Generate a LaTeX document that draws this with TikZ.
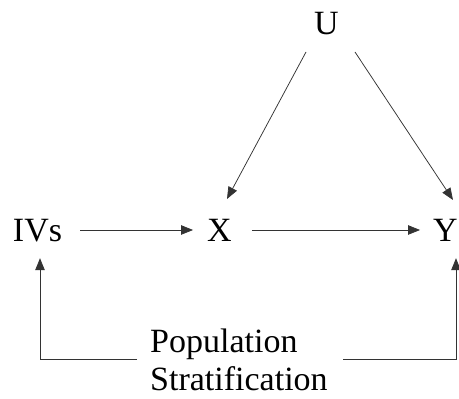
\documentclass[tikz,border=0pt]{standalone}
\usepackage{fontspec}
\setmainfont{Liberation Serif}
\usetikzlibrary{arrows.meta,calc}
\begin{document}
\begin{tikzpicture}[x=1pt,y=1pt,
  lbl/.style={inner sep=0pt,font=\fontsize{34}{38}\selectfont,text height=24pt,text depth=0pt,anchor=base},
  arr/.style={-{Triangle[length=12pt,width=9.5pt]},line width=0.75pt,draw=black!80}]
\useasboundingbox (0,0) rectangle (459,399);
\node[lbl] (U) at (326.5,364) {U};
\node[lbl] (IVs) at (37.5,157) {IVs};
\node[lbl] (X) at (219.5,157) {X};
\node[lbl] (Y) at (445.5,157) {Y};
\node[inner sep=0pt,font=\fontsize{34}{38}\selectfont,align=left,anchor=north west] (PS) at (150,70) {Population\\Stratification};
\coordinate (pl) at (137,40);
\coordinate (pr) at (343,40);
\coordinate (bl) at (40,40);
\coordinate (br) at (456,40);
\draw[arr,shorten <=18pt,shorten >=14pt] (IVs.east) -- (X.west);
\draw[arr,shorten <=20pt,shorten >=13pt] (X.east) -- (Y.west);
\draw[arr] ($(U.base)+(-20.5,-17)$) -- ($(X.base)+(7.5,43)$);
\draw[arr] ($(U.base)+(28.5,-17)$) -- ($(Y.base)+(7.5,42)$);
\draw[arr,shorten >=16pt] (pl) -- (bl) -- (bl |- IVs.south);
\draw[arr,shorten >=16pt] (pr) -- (br) -- (br |- Y.south);
\end{tikzpicture}
\end{document}
